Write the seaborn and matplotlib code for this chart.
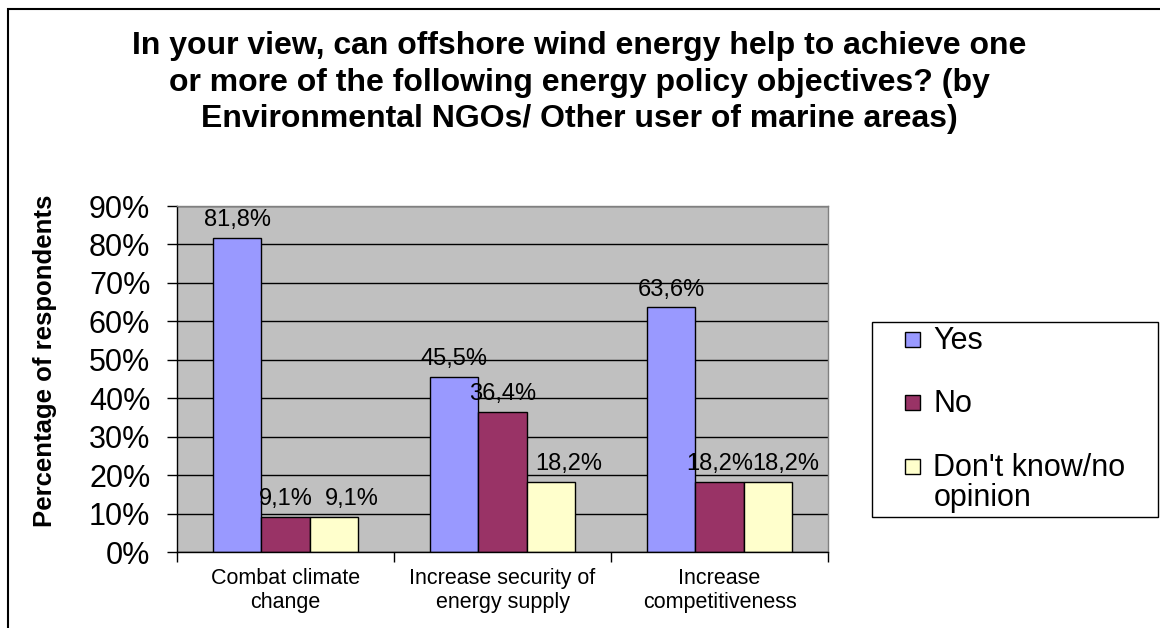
import matplotlib
matplotlib.use("Agg")
import matplotlib.pyplot as plt
from matplotlib.patches import Rectangle, Patch
from matplotlib.legend_handler import HandlerPatch
import pandas as pd
import seaborn as sns

# Survey answers (percentage of respondents)
objectives = ["Combat climate\nchange", "Increase security of\nenergy supply", "Increase\ncompetitiveness"]
answers = ["Yes", "No", "Don't know/no opinion"]
yes_share = [81.8, 45.5, 63.6]
no_share = [9.1, 36.4, 18.2]
dk_share = [9.1, 18.2, 18.2]
y_ticks = [0, 10, 20, 30, 40, 50, 60, 70, 80, 90]
y_tick_labels = ["0%", "10%", "20%", "30%", "40%", "50%", "60%", "70%", "80%", "90%"]
bar_colors = ["#9999FF", "#993366", "#FFFFCC"]

title = ("In your view, can offshore wind energy help to achieve one\n"
         "or more of the following energy policy objectives? (by\n"
         "Environmental NGOs/ Other user of marine areas)")

df = pd.DataFrame({
    "objective": objectives * 3,
    "answer": [a for a in answers for _ in objectives],
    "share": yes_share + no_share + dk_share,
})

sns.set_theme(style="white")
plt.rcParams["font.family"] = ["Liberation Sans", "DejaVu Sans"]
for key in ["text.color", "axes.labelcolor", "xtick.color", "ytick.color"]:
    plt.rcParams[key] = "black"

W, H = 1160, 628
fig = plt.figure(figsize=(W / 100, H / 100), dpi=100)
fig.patch.set_facecolor("white")

# outer chart border (left and top edges visible)
fig.patches.append(Rectangle((8 / W, -0.2), 2.0, 1.2 - 9 / H, transform=fig.transFigure,
                             fill=False, edgecolor="black", linewidth=1.5))

ax = fig.add_axes([177 / W, 1 - 552 / H, 651 / W, 346 / H])
sns.barplot(data=df, x="objective", y="share", hue="answer", order=objectives,
            hue_order=answers, palette=bar_colors, saturation=1, width=0.667,
            edgecolor="black", linewidth=1, legend=False, ax=ax)

ax.set_facecolor("#C0C0C0")
ax.set_xlim(-0.5, 2.5)
ax.set_ylim(0, 90)
ax.set_yticks(y_ticks)
ax.set_yticklabels(y_tick_labels, fontsize=22)
ax.yaxis.grid(True, color="black", linewidth=1)
ax.set_axisbelow(True)
ax.tick_params(axis="y", length=7.2, width=1, color="black", direction="out", pad=12, left=True)

ax.set_xticks(range(len(objectives)))
ax.set_xticklabels(objectives, fontsize=15.5, linespacing=1.22)
ax.tick_params(axis="x", which="major", length=0, pad=11.5)
ax.set_xticks([-0.5, 0.5, 1.5, 2.5], minor=True)
ax.tick_params(axis="x", which="minor", length=7, width=1, color="black", direction="out", bottom=True)

for side in ["left", "bottom"]:
    ax.spines[side].set_color("black")
    ax.spines[side].set_linewidth(1)
for side in ["top", "right"]:
    ax.spines[side].set_color("#808080")
    ax.spines[side].set_linewidth(1)

ax.set_xlabel("")
ax.set_ylabel("")

# value labels above bars; the third series' labels sit a little to the right
label_shift = [0, 0, 13]
for container, dx in zip(ax.containers, label_shift):
    labels = [f"{v:.1f}".replace(".", ",") + "%" for v in container.datavalues]
    for ann in ax.bar_label(container, labels=labels, padding=5, fontsize=17):
        ann.xyann = (dx, 5)

fig.text(45 / W, 1 - 361 / H, "Percentage of respondents", rotation=90,
         ha="center", va="center", fontsize=18.5, fontweight="bold")

fig.text(0.4995, 1 - 82.5 / H, title, ha="center", va="center", fontsize=23,
         fontweight="bold", linespacing=1.28)


def square_patch(legend, orig_handle, xdescent, ydescent, width, height, fontsize):
    size = 15 * 72 / 100
    return Rectangle((-xdescent + width - size, -ydescent + height - size - 0.2 * fontsize),
                     size, size)


handles = [Patch(facecolor=c, edgecolor="black", linewidth=1) for c in bar_colors]
leg_labels = ["Yes", "No", "Don't know/no\nopinion"]
leg = fig.legend(handles, leg_labels, loc="upper left",
                 bbox_to_anchor=(872 / W, 1 - 322 / H, 286 / W, 0.0), mode="expand",
                 borderaxespad=0, fontsize=22, frameon=True, fancybox=False, framealpha=1,
                 edgecolor="black", borderpad=0.12, handlelength=1.44, handleheight=0.9,
                 handletextpad=0.45, labelspacing=1.1,
                 handler_map={Patch: HandlerPatch(patch_func=square_patch)})
leg.get_frame().set_linewidth(1)
for t in leg.get_texts():
    t.set_linespacing(1.0)
for col in leg._legend_handle_box.get_children():
    for item in col.get_children():
        item.align = "top"

fig.savefig("out.png", dpi=100)
